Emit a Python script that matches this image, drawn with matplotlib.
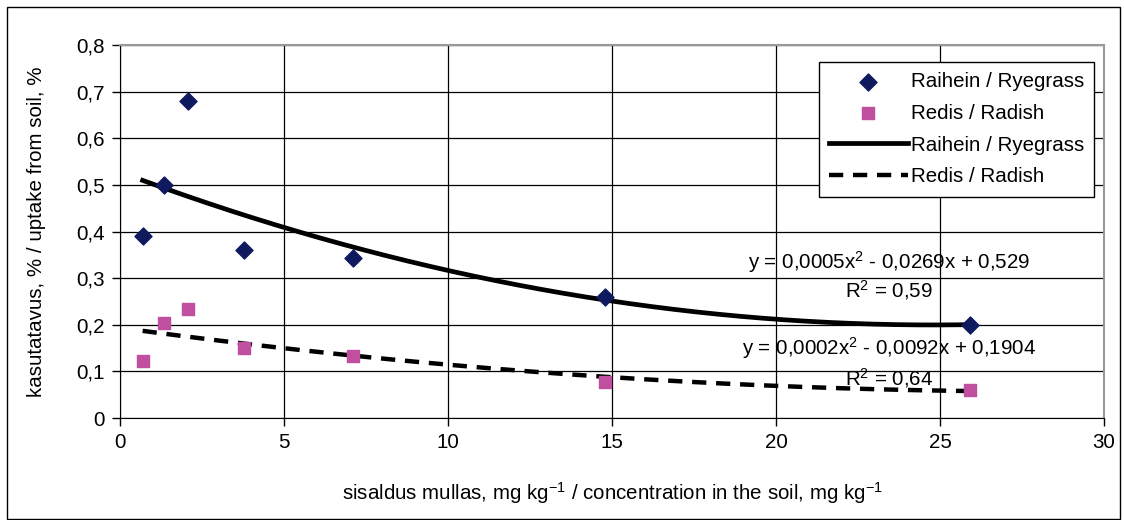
import numpy as np
import matplotlib
matplotlib.use("Agg")
import matplotlib.pyplot as plt
from matplotlib.patches import Rectangle
from matplotlib.ticker import FuncFormatter

plt.rcParams['font.family'] = ['Liberation Sans', 'DejaVu Sans']
plt.rcParams['mathtext.fontset'] = 'custom'
plt.rcParams['mathtext.rm'] = 'Liberation Sans'
plt.rcParams['mathtext.it'] = 'Liberation Sans'
plt.rcParams['mathtext.default'] = 'regular'

# concentration in soil, mg/kg
conc = [0.69, 1.33, 2.06, 3.77, 7.1, 14.8, 25.9]
ryegrass = [0.39, 0.50, 0.68, 0.36, 0.344, 0.26, 0.20]
radish = [0.123, 0.203, 0.233, 0.150, 0.134, 0.078, 0.061]

label_rye = "Raihein / Ryegrass"
label_rad = "Redis / Radish"
eq_rye = "y = 0,0005x$^2$ - 0,0269x + 0,529"
r2_rye = "R$^2$ = 0,59"
eq_rad = "y = 0,0002x$^2$ - 0,0092x + 0,1904"
r2_rad = "R$^2$ = 0,64"

FS = 14.8

fig = plt.figure(figsize=(11.24, 5.2), dpi=100)
ax = fig.add_axes([120 / 1124, 102 / 520, 984 / 1124, 373 / 520])

# outer chart frame
fig.patches.append(Rectangle((7 / 1124, 1 / 520), 1113 / 1124, 512 / 520,
                             transform=fig.transFigure, fill=False,
                             edgecolor='black', linewidth=1.0))

ax.scatter(conc, ryegrass, marker='D', s=75, color='#0f1a5e', zorder=4, label=label_rye)
ax.scatter(conc, radish, marker='s', s=80, color='#c04f9f', zorder=4, label=label_rad)

# 2nd order polynomial trendlines (as in Excel)
xs = np.linspace(min(conc), max(conc), 300)
p_rye = np.polyfit(conc, ryegrass, 2)
p_rad = np.polyfit(conc, radish, 2)
ax.plot(xs, np.polyval(p_rye, xs), color='black', lw=3.4, zorder=3, label=label_rye)
ax.plot(xs, np.polyval(p_rad, xs), color='black', lw=3.2, ls=(0, (3.2, 2.2)), zorder=3, label=label_rad)

ax.text(23.45, 0.3346, eq_rye, fontsize=FS, ha='center', va='center')
ax.text(23.45, 0.2745, r2_rye, fontsize=FS, ha='center', va='center')
ax.text(23.45, 0.150, eq_rad, fontsize=FS, ha='center', va='center')
ax.text(23.45, 0.0858, r2_rad, fontsize=FS, ha='center', va='center')

ax.set_xlim(0, 30)
ax.set_ylim(0, 0.8)
ax.set_xticks(range(0, 31, 5))
ax.set_yticks(np.arange(0, 0.81, 0.1))
ax.yaxis.set_major_formatter(FuncFormatter(lambda v, p: ("%.1f" % v).replace('.', ',') if v > 0.001 else "0"))
ax.tick_params(labelsize=FS, direction='out', length=6, width=1, pad=5)
ax.grid(True, color='black', linewidth=0.9)
ax.set_axisbelow(True)
for side in ['top', 'right']:
    ax.spines[side].set_color('#999999')
    ax.spines[side].set_linewidth(1.5)
for side in ['left', 'bottom']:
    ax.spines[side].set_color('black')

ax.set_xlabel("sisaldus mullas, mg kg$^{-1}$ / concentration in the soil, mg kg$^{-1}$", fontsize=FS, labelpad=20)
ax.set_ylabel("kasutatavus, % / uptake from soil, %", fontsize=FS, labelpad=22)

leg = ax.legend(loc='upper right', bbox_to_anchor=(0.99, 0.955), borderaxespad=0,
                fontsize=FS, handlelength=3.8, handletextpad=0.15, labelspacing=0.62,
                fancybox=False, framealpha=1, edgecolor='black', borderpad=0.5)
leg.get_frame().set_linewidth(1.0)

fig.savefig("out.png", dpi=100)
